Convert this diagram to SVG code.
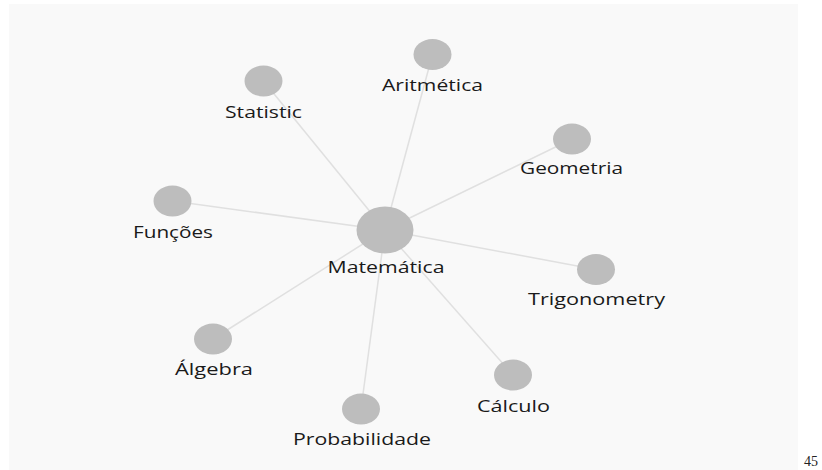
<svg xmlns="http://www.w3.org/2000/svg" width="822" height="470" viewBox="0 0 822 470">
<style>
.bg{fill:#f9f9f9}
.link{stroke:#e0e0e0;stroke-width:1.5;fill:none}
.node ellipse{fill:#bdbdbd}
.node text{font-family:"Open Sans","Noto Sans","DejaVu Sans",sans-serif;font-size:16.5px;fill:#1a1a1a;text-anchor:middle}
.pg{font-family:"Liberation Serif",serif;font-size:14px;fill:#222}
</style>
<rect class="bg" x="9" y="4" width="789" height="466"/>
<g id="links">
<line class="link" x1="385" y1="230" x2="263.5" y2="81"/>
<line class="link" x1="385" y1="230" x2="432.5" y2="54.5"/>
<line class="link" x1="385" y1="230" x2="572" y2="139"/>
<line class="link" x1="385" y1="230" x2="596" y2="269.5"/>
<line class="link" x1="385" y1="230" x2="172.5" y2="201"/>
<line class="link" x1="385" y1="230" x2="213" y2="339"/>
<line class="link" x1="385" y1="230" x2="361" y2="409"/>
<line class="link" x1="385" y1="230" x2="513" y2="375"/>
</g>
<g id="node-matematica" class="node"><ellipse cx="385" cy="230" rx="28.5" ry="23.5"/><text x="386" y="273" textLength="117" lengthAdjust="spacingAndGlyphs">Matemática</text></g>
<g id="node-statistic" class="node"><ellipse cx="263.5" cy="81" rx="19" ry="15.5"/><text x="263.5" y="118" textLength="77" lengthAdjust="spacingAndGlyphs">Statistic</text></g>
<g id="node-aritmetica" class="node"><ellipse cx="432.5" cy="54.5" rx="19" ry="15.5"/><text x="432.5" y="91" textLength="101" lengthAdjust="spacingAndGlyphs">Aritmética</text></g>
<g id="node-geometria" class="node"><ellipse cx="572" cy="139" rx="19" ry="15.5"/><text x="571.5" y="174" textLength="103" lengthAdjust="spacingAndGlyphs">Geometria</text></g>
<g id="node-trigonometry" class="node"><ellipse cx="596" cy="269.5" rx="19" ry="15.5"/><text x="596.5" y="305" textLength="137" lengthAdjust="spacingAndGlyphs">Trigonometry</text></g>
<g id="node-funcoes" class="node"><ellipse cx="172.5" cy="201" rx="19" ry="15.5"/><text x="173" y="238" textLength="80" lengthAdjust="spacingAndGlyphs">Funções</text></g>
<g id="node-algebra" class="node"><ellipse cx="213" cy="339" rx="19" ry="15.5"/><text x="214" y="375" textLength="78" lengthAdjust="spacingAndGlyphs">Álgebra</text></g>
<g id="node-probabilidade" class="node"><ellipse cx="361" cy="409" rx="19" ry="15.5"/><text x="362" y="445" textLength="138" lengthAdjust="spacingAndGlyphs">Probabilidade</text></g>
<g id="node-calculo" class="node"><ellipse cx="513" cy="375" rx="19" ry="15.5"/><text x="513.5" y="412" textLength="73" lengthAdjust="spacingAndGlyphs">Cálculo</text></g>
<text class="pg" x="804" y="466">45</text>
</svg>
